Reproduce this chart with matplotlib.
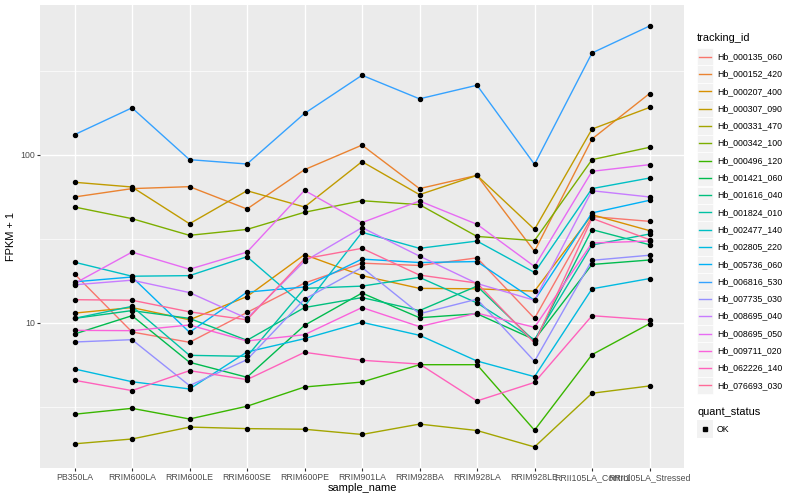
import numpy as np
import matplotlib
matplotlib.use("Agg")
import matplotlib.pyplot as plt
from matplotlib.ticker import FixedLocator, NullFormatter
from matplotlib.patches import Rectangle
from matplotlib.lines import Line2D

plt.rcParams['font.family'] = ['Liberation Sans', 'DejaVu Sans']

## DATA ______________________________________________

samples = ["PB350LA", "RRIM600LA", "RRIM600LE", "RRIM600SE", "RRIM600PE",
           "RRIM901LA", "RRIM928BA", "RRIM928LA", "RRIM928LE",
           "RRII105LA_Control", "RRII105LA_Stressed"]

tracking_ids = ["Hb_000135_060", "Hb_000152_420", "Hb_000207_400", "Hb_000307_090",
                "Hb_000331_470", "Hb_000342_100", "Hb_000496_120", "Hb_001421_060",
                "Hb_001616_040", "Hb_001824_010", "Hb_002477_140", "Hb_002805_220",
                "Hb_005736_060", "Hb_006816_530", "Hb_007735_030", "Hb_008695_040",
                "Hb_008695_050", "Hb_009711_020", "Hb_062226_140", "Hb_076693_030"]

# FPKM + 1, one list per gene, in sample order
hb_000135_060 = [19.5, 8.80, 7.64, 11.5, 17.2, 22.6, 21.9, 24.3, 10.6, 42.8, 40.1]
hb_000152_420 = [56.0, 62.8, 64.5, 47.5, 81.4, 114, 62.8, 75.3, 26.6, 124, 231]
hb_000207_400 = [11.4, 12.3, 10.4, 14.3, 25.4, 19.05, 16.0, 15.9, 15.4, 43.9, 35.3]
hb_000307_090 = [68.5, 64.2, 38.8, 61.0, 48.8, 90.9, 57.8, 75.3, 35.9, 142, 191]
hb_000331_470 = [1.90, 2.03, 2.39, 2.34, 2.32, 2.16, 2.49, 2.28, 1.82, 3.80, 4.20]
hb_000342_100 = [48.8, 41.6, 33.1, 35.9, 45.4, 53.2, 50.4, 32.6, 30.8, 93.4, 110.6]
hb_000496_120 = [2.85, 3.09, 2.67, 3.18, 4.14, 4.43, 5.62, 5.62, 2.29, 6.45, 9.86]
hb_001421_060 = [8.56, 11.0, 5.81, 4.73, 9.64, 15.0, 10.7, 11.3, 7.92, 22.2, 23.6]
hb_001616_040 = [10.6, 11.8, 10.6, 7.85, 12.3, 14.1, 11.8, 16.5, 7.74, 35.8, 29.1]
hb_001824_010 = [10.6, 12.5, 6.39, 6.30, 16.0, 16.5, 18.6, 13.1, 7.92, 29.0, 33.7]
hb_002477_140 = [22.9, 18.9, 19.05, 24.7, 12.5, 34.5, 27.7, 30.6, 19.9, 62.8, 72.6]
hb_002805_220 = [5.30, 4.45, 4.03, 6.69, 8.03, 10.05, 8.41, 5.91, 4.77, 15.9, 18.3]
hb_005736_060 = [17.5, 18.7, 8.76, 15.2, 16.3, 23.9, 22.8, 23.1, 13.6, 45.0, 53.5]
hb_006816_530 = [131.5, 190, 93.4, 88.0, 176, 297, 215, 259, 87.6, 403, 583]
hb_007735_030 = [7.67, 7.92, 4.22, 6.02, 13.8, 21.3, 11.3, 13.8, 5.89, 23.5, 25.2]
hb_008695_040 = [16.8, 17.9, 15.1, 10.6, 23.2, 36.8, 24.9, 17.1, 13.6, 61.0, 56.0]
hb_008695_050 = [17.1, 26.3, 20.8, 26.3, 61.3, 39.4, 53.0, 38.5, 21.6, 79.6, 87.2]
hb_009711_020 = [9.00, 8.96, 9.68, 7.78, 8.48, 12.3, 9.47, 11.4, 9.38, 29.8, 30.6]
hb_062226_140 = [4.54, 3.94, 5.18, 4.58, 6.66, 5.97, 5.67, 3.42, 4.41, 11.0, 10.4]
hb_076693_030 = [13.7, 13.6, 11.6, 10.4, 24.0, 27.7, 19.2, 17.2, 7.57, 41.8, 31.2]

series = [hb_000135_060, hb_000152_420, hb_000207_400, hb_000307_090, hb_000331_470,
          hb_000342_100, hb_000496_120, hb_001421_060, hb_001616_040, hb_001824_010,
          hb_002477_140, hb_002805_220, hb_005736_060, hb_006816_530, hb_007735_030,
          hb_008695_040, hb_008695_050, hb_009711_020, hb_062226_140, hb_076693_030]

quant_levels = ["OK"]


## COLOURS (ggplot default hue palette) _______________

def hue_palette(n, l=65, c=100, h_start=15):
    """hcl(h, c, l) colours spaced round the wheel, like scales::hue_pal()"""
    xn, yn, zn = 0.95047, 1.0, 1.08883
    un = 4 * xn / (xn + 15 * yn + 3 * zn)
    vn = 9 * yn / (xn + 15 * yn + 3 * zn)
    m = np.array([[3.240479, -1.537150, -0.498535],
                  [-0.969256, 1.875992, 0.041556],
                  [0.055648, -0.204043, 1.057311]])
    cols = []
    for h in np.linspace(h_start, h_start + 360, n + 1)[:-1]:
        hr = np.deg2rad(h)
        u, v = c * np.cos(hr), c * np.sin(hr)
        Y = ((l + 16) / 116) ** 3
        up = u / (13 * l) + un
        vp = v / (13 * l) + vn
        X = Y * 9 * up / (4 * vp)
        Z = Y * (12 - 3 * up - 20 * vp) / (4 * vp)
        rgb = m @ np.array([X, Y, Z])
        rgb = np.where(rgb > 0.0031308, 1.055 * np.clip(rgb, 0, None) ** (1 / 2.4) - 0.055, 12.92 * rgb)
        cols.append(tuple(np.clip(rgb, 0, 1)))
    return cols

colors = hue_palette(len(tracking_ids))


## PLOT ______________________________________________

fig = plt.figure(figsize=(8, 5), dpi=100)
ax = fig.add_axes([0.05, 0.064, 0.805, 0.926])
ax.set_facecolor("#EBEBEB")

x = np.arange(len(samples))
for vals, col in zip(series, colors):
    ax.plot(x, vals, color=col, lw=1.0, zorder=3)
for vals in series:
    ax.plot(x, vals, ls="none", marker="o", ms=2.9, color="black", zorder=4)

ax.set_yscale("log")
allv = np.log10(np.concatenate(series))
lo, hi = allv.min(), allv.max()
pad = 0.05 * (hi - lo)
ax.set_ylim(10 ** (lo - pad), 10 ** (hi + pad))
ax.set_xlim(-0.6, len(samples) - 0.4)

ax.yaxis.set_major_locator(FixedLocator([10, 100]))
ax.set_yticklabels(["10", "100"])
ax.yaxis.set_minor_locator(FixedLocator([10 ** 0.5, 10 ** 1.5, 10 ** 2.5]))
ax.yaxis.set_minor_formatter(NullFormatter())
ax.set_xticks(x)
ax.set_xticklabels(samples)

ax.grid(which="major", color="white", lw=1.0, zorder=0)
ax.grid(which="minor", axis="y", color="white", lw=0.5, zorder=0)
ax.set_axisbelow(True)
for s in ax.spines.values():
    s.set_visible(False)
ax.tick_params(which="major", length=2, width=0.8, color="#333333",
               labelsize=6.3, labelcolor="#4D4D4D", pad=1.5)
ax.tick_params(which="minor", length=0)

ax.set_xlabel("sample_name", fontsize=7.9, labelpad=1)
ax.set_ylabel("FPKM + 1", fontsize=7.9, labelpad=3)

# legend, ggplot style (drawn in pixels of the 800x500 figure)
def px(xp, yp):
    return xp / 800, 1 - yp / 500

fig.text(*px(697, 38), "tracking_id", fontsize=7.9, va="center", ha="left")
for i, (tid, col) in enumerate(zip(tracking_ids, colors)):
    yc = 56.7 + i * 17.3
    x0, y0 = px(697, yc + 8.6)
    fig.add_artist(Rectangle((x0, y0), 16 / 800, 17.2 / 500, transform=fig.transFigure,
                             facecolor="#F2F2F2", edgecolor="white", lw=0.5))
    fig.add_artist(Line2D([699 / 800, 711 / 800], [1 - yc / 500] * 2,
                          transform=fig.transFigure, color=col, lw=1.0))
    fig.text(*px(717, yc), tid, fontsize=6.3, va="center", ha="left")

fig.text(*px(697, 412), "quant_status", fontsize=7.9, va="center", ha="left")
for j, q in enumerate(quant_levels):
    yc = 429 + j * 17.3
    x0, y0 = px(697, yc + 8.6)
    fig.add_artist(Rectangle((x0, y0), 16 / 800, 17.2 / 500, transform=fig.transFigure,
                             facecolor="#F2F2F2", edgecolor="none"))
    fig.add_artist(Line2D([705 / 800], [1 - yc / 500], transform=fig.transFigure,
                          ls="none", marker="s", ms=2.8, color="black"))
    fig.text(*px(717, yc), q, fontsize=6.3, va="center", ha="left")

fig.savefig("out.png", dpi=100)
